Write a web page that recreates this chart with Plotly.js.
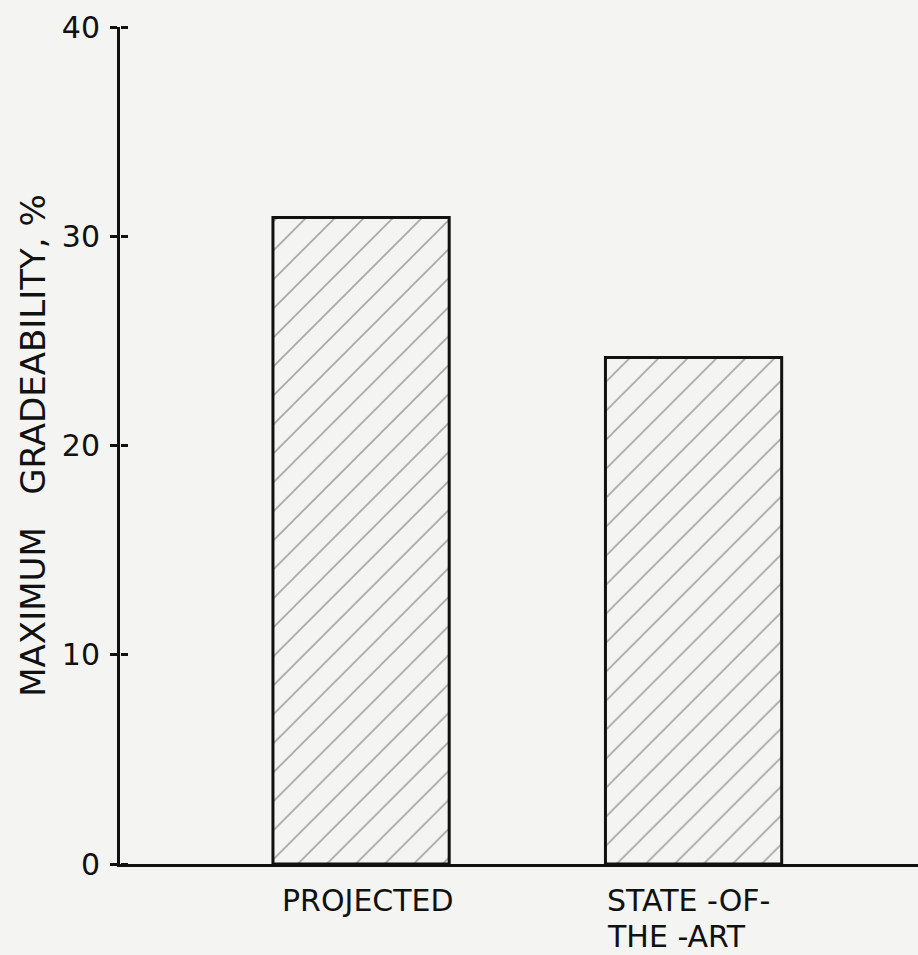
<!DOCTYPE html>
<html>
<head>
<meta charset="utf-8">
<script src="https://cdn.plot.ly/plotly-3.0.1.min.js"></script>
<style>
  html, body { margin: 0; padding: 0; background: #f4f4f2; }
  #chart { width: 918px; height: 955px; }
</style>
</head>
<body>
<div id="chart"></div>
<script>
const categories = ["PROJECTED", "STATE-OF-THE-ART"];
const labelLine1 = ["PROJECTED", "STATE -OF-"];
const labelLine2 = ["", "THE -ART"];
const gradeability = [30.9, 24.2];
const yTickVals = [0, 10, 20, 30, 40];
const yTickText = ["0", "10", "20", "30", "40"];
const yTitle = "\u00A0\u00A0\u00A0MAXIMUM\u00A0\u00A0\u00A0GRADEABILITY,\u00A0%";

const FONT = "DejaVu Sans, Liberation Sans, sans-serif";
const BG = "#f4f4f2";
const INK = "#111";

const bars = {
  type: "bar",
  x: categories,
  y: gradeability,
  width: 0.53,
  marker: {
    color: BG,
    line: { color: INK, width: 3 },
    pattern: { shape: "/", fgcolor: "#a6a6a6", bgcolor: BG, size: 20.5, solidity: 0.08 }
  },
  hoverinfo: "skip",
  cliponaxis: false
};

const ghost = {
  type: "scatter",
  mode: "markers",
  x: categories,
  y: gradeability,
  yaxis: "y2",
  marker: { opacity: 0 },
  hoverinfo: "skip",
  showlegend: false
};

const annotations = [];
categories.forEach((c, i) => {
  annotations.push({
    x: c, y: 0, xref: "x", yref: "y",
    text: labelLine1[i], showarrow: false,
    xanchor: i === 0 ? "center" : "left",
    xshift: i === 0 ? 7 : -88,
    yanchor: "top", yshift: -18, borderpad: 0,
    font: { family: FONT, size: 30, color: INK }
  });
  if (labelLine2[i]) {
    annotations.push({
      x: c, y: 0, xref: "x", yref: "y",
      text: labelLine2[i], showarrow: false,
      xanchor: "left", xshift: -88,
      yanchor: "top", yshift: -54, borderpad: 0,
      font: { family: FONT, size: 30, color: INK }
    });
  }
});

const layout = {
  width: 918,
  height: 955,
  paper_bgcolor: BG,
  plot_bgcolor: BG,
  showlegend: false,
  margin: { l: 120, r: 0, t: 27, b: 91 },
  font: { family: FONT, color: INK },
  xaxis: {
    type: "category",
    range: [-0.725, 1.675],
    tickvals: categories,
    showticklabels: false,
    ticks: "",
    showline: true,
    linecolor: INK,
    linewidth: 3,
    showgrid: false,
    zeroline: false
  },
  yaxis: {
    range: [0, 40],
    tickvals: yTickVals,
    ticktext: yTickText,
    ticks: "outside",
    ticklen: 7,
    tickwidth: 3,
    tickcolor: INK,
    showline: true,
    linecolor: INK,
    linewidth: 3,
    showgrid: false,
    zeroline: false,
    tickfont: { family: FONT, size: 30, color: INK },
    ticklabelstandoff: 4,
    title: { text: yTitle, font: { family: FONT, size: 34, color: INK }, standoff: 6 }
  },
  yaxis2: {
    overlaying: "y",
    side: "right",
    anchor: "free",
    position: 0,
    range: [0, 40],
    tickvals: yTickVals,
    ticks: "outside",
    ticklen: 7,
    tickwidth: 3,
    tickcolor: INK,
    showticklabels: false,
    showline: false,
    showgrid: false,
    zeroline: false
  },
  annotations: annotations
};

Plotly.newPlot("chart", [bars, ghost], layout, { displayModeBar: false, staticPlot: true });
</script>
</body>
</html>
